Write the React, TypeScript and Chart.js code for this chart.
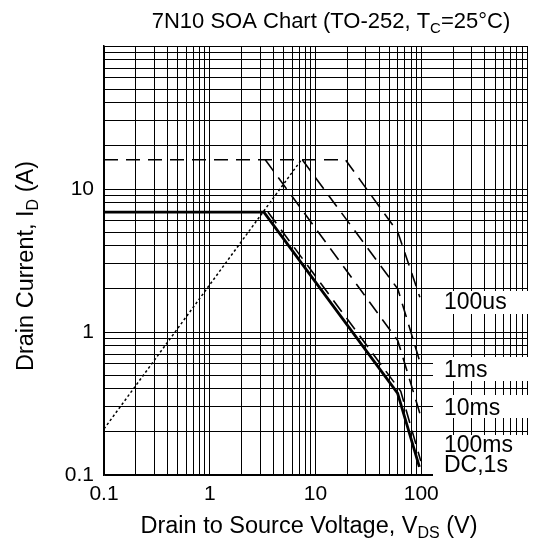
import React, { useEffect, useRef } from 'react';
import { Chart, registerables } from 'chart.js';

Chart.register(...registerables);

const FONT = '"Liberation Sans", Arial, Helvetica, sans-serif';

// Axis ranges and tick labels
const xMin = 0.1;
const xMax = 1000;
const yMin = 0.1;
const yMax = 100;
const xTickLabels = [0.1, 1, 10, 100];
const yTickLabels = [0.1, 1, 10];
const xDecades = [0.1, 1, 10, 100];
const yDecades = [0.1, 1, 10];
const gridMultipliers = [1, 2, 3, 4, 5, 6, 7, 8, 9];

// SOA boundary curves (V, A)
const us100V = [0.1, 19.2, 60, 97];
const us100I = [16, 16, 5.0, 1.75];
const ms1V = [7.5, 60, 97];
const ms1I = [16, 2.0, 0.62];
const ms10V = [3.35, 60, 97];
const ms10I = [16, 0.87, 0.27];
const ms100V = [3.55, 64, 99];
const ms100I = [6.9, 0.385, 0.125];
const dcV = [0.1, 3.25, 59.7, 96];
const dcI = [6.9, 6.9, 0.374, 0.114];
const rdsV = [0.1, 7.35];
const rdsI = [0.21, 16];

// Curve labels
const curveLabels = ['100us', '1ms', '10ms', '100ms', 'DC,1s'];

const toPoints = (xs: number[], ys: number[]) => xs.map((x, i) => ({ x, y: ys[i] }));

const gridValues = (decades: number[], top: number) => {
  const out: number[] = [];
  decades.forEach((d) => gridMultipliers.forEach((m) => out.push(+(d * m).toPrecision(6))));
  out.push(top);
  return out;
};

const isLabel = (v: number, list: number[]) => list.some((l) => Math.abs(l - v) / l < 1e-6);

type Seg = { t: string; sub?: boolean };

function drawSegs(ctx: CanvasRenderingContext2D, segs: Seg[], x: number, y: number, size: number, align: 'left' | 'center') {
  const subSize = Math.round(size * 0.68);
  const widths = segs.map((s) => {
    ctx.font = `${s.sub ? subSize : size}px ${FONT}`;
    return ctx.measureText(s.t).width;
  });
  const total = widths.reduce((a, b) => a + b, 0);
  let cx = align === 'center' ? x - total / 2 : x;
  segs.forEach((s, i) => {
    ctx.font = `${s.sub ? subSize : size}px ${FONT}`;
    ctx.fillText(s.t, cx, s.sub ? y + size * 0.22 : y);
    cx += widths[i];
  });
}

const textPlugin = {
  id: 'soaText',
  afterDatasetsDraw(chart: any) {
    const ctx: CanvasRenderingContext2D = chart.ctx;
    ctx.save();
    // white label boxes and curve labels
    const boxes = [
      { y0: 291, y1: 314 },
      { y0: 357, y1: 381 },
      { y0: 395, y1: 418 },
      { y0: 435, y1: 476 },
    ];
    ctx.fillStyle = '#fff';
    boxes.forEach((b) => ctx.fillRect(433, b.y0, 534 - 433, b.y1 - b.y0));
    ctx.fillStyle = '#000';
    ctx.font = `23px ${FONT}`;
    ctx.textAlign = 'left';
    ctx.textBaseline = 'alphabetic';
    const baselines = [308.5, 376.5, 414.5, 452, 471.5];
    curveLabels.forEach((t, i) => ctx.fillText(t, 444, baselines[i]));
    ctx.restore();
  },
  afterDraw(chart: any) {
    const ctx: CanvasRenderingContext2D = chart.ctx;
    ctx.save();
    ctx.fillStyle = '#000';
    ctx.textBaseline = 'alphabetic';
    ctx.textAlign = 'left';
    drawSegs(ctx, [{ t: '7N10 SOA Chart (TO-252, T' }, { t: 'C', sub: true }, { t: '=25°C)' }], 331, 28, 22, 'center');
    drawSegs(ctx, [{ t: 'Drain to Source Voltage, V' }, { t: 'DS', sub: true }, { t: ' (V)' }], 309, 533, 23.5, 'center');
    ctx.translate(33, 266);
    ctx.rotate(-Math.PI / 2);
    drawSegs(ctx, [{ t: 'Drain Current, I' }, { t: 'D', sub: true }, { t: ' (A)' }], 0, 0, 23.5, 'center');
    ctx.restore();
  },
};

export default function App() {
  const ref = useRef<HTMLCanvasElement | null>(null);

  useEffect(() => {
    if (!ref.current) return;
    const xGrid = gridValues(xDecades, xMax);
    const yGrid = gridValues(yDecades, yMax);
    const dashed = { borderColor: '#000', borderWidth: 1.6, borderDash: [14, 8], pointRadius: 0, showLine: true, fill: false };
    const chart = new Chart(ref.current, {
      type: 'scatter',
      data: {
        datasets: [
          { label: '100us', data: toPoints(us100V, us100I), ...dashed },
          { label: '1ms', data: toPoints(ms1V, ms1I), ...dashed },
          { label: '10ms', data: toPoints(ms10V, ms10I), ...dashed },
          { label: '100ms', data: toPoints(ms100V, ms100I), ...dashed },
          { label: 'DC,1s', data: toPoints(dcV, dcI), borderColor: '#000', borderWidth: 2.8, pointRadius: 0, showLine: true, fill: false },
          { label: 'RDS(on)', data: toPoints(rdsV, rdsI), borderColor: '#000', borderWidth: 1.5, borderDash: [2.5, 2.5], pointRadius: 0, showLine: true, fill: false },
        ] as any,
      },
      options: {
        animation: false,
        responsive: false,
        devicePixelRatio: 1,
        layout: { padding: { top: 46, left: 0, right: 0, bottom: 0 } },
        plugins: { legend: { display: false }, tooltip: { enabled: false }, title: { display: false } },
        elements: { line: { tension: 0 } },
        scales: {
          x: {
            type: 'logarithmic',
            min: xMin,
            max: xMax,
            afterBuildTicks: (s: any) => {
              s.ticks = xGrid.map((v) => ({ value: v }));
            },
            afterFit: (s: any) => {
              s.height = 75;
            },
            grid: { color: '#000', lineWidth: 1, drawTicks: false },
            border: { color: '#000', width: 1.5 },
            ticks: {
              autoSkip: false,
              maxRotation: 0,
              minRotation: 0,
              padding: 7,
              color: '#000',
              font: { family: FONT, size: 21 },
              callback: (v: any) => (isLabel(Number(v), xTickLabels) ? String(Number(v)) : ''),
            },
          },
          y: {
            type: 'logarithmic',
            min: yMin,
            max: yMax,
            afterBuildTicks: (s: any) => {
              s.ticks = yGrid.map((v) => ({ value: v }));
            },
            afterFit: (s: any) => {
              s.width = 104;
            },
            grid: { color: '#000', lineWidth: 1, drawTicks: false },
            border: { color: '#000', width: 1.5 },
            ticks: {
              autoSkip: false,
              padding: 10,
              color: '#000',
              font: { family: FONT, size: 21 },
              callback: (v: any) => (isLabel(Number(v), yTickLabels) ? String(Number(v)) : ''),
            },
          },
        },
      } as any,
      plugins: [textPlugin],
    });
    return () => chart.destroy();
  }, []);

  return (
    <div style={{ position: 'absolute', left: 0, top: 0, width: 534, height: 550, background: '#fff' }}>
      <canvas ref={ref} width={534} height={550} style={{ display: 'block' }} />
    </div>
  );
}
